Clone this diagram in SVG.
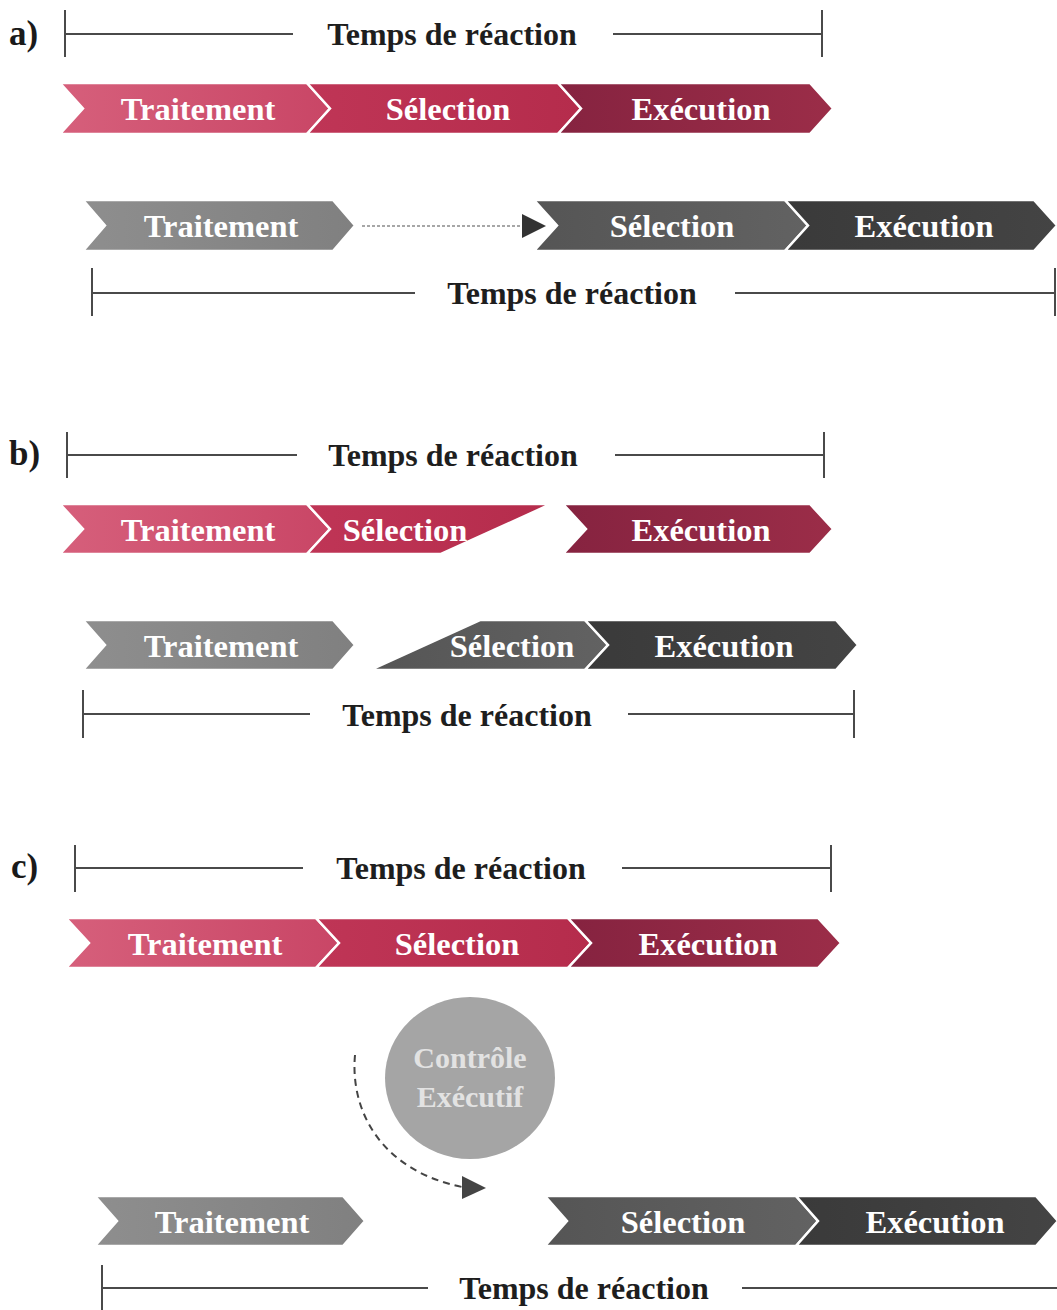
<svg xmlns="http://www.w3.org/2000/svg" width="1057" height="1310" viewBox="0 0 1057 1310">
<style>
.lbl{font-family:"Liberation Serif","Times New Roman",serif;font-weight:bold;font-size:35px;fill:#1a1a1a}
.t{font-family:"Liberation Serif","Times New Roman",serif;font-weight:bold;font-size:32.5px;fill:#ffffff;text-anchor:middle}
.rt{font-family:"Liberation Serif","Times New Roman",serif;font-weight:bold;font-size:32px;fill:#1e1e1e;text-anchor:middle}
.ct{font-family:"Liberation Serif","Times New Roman",serif;font-weight:bold;font-size:30px;fill:#e2e2e2;text-anchor:middle}
.br{stroke:#4a4a4a;stroke-width:2;fill:none}
.seg{stroke:#ffffff;stroke-width:2.5;stroke-linejoin:miter}
.p1{fill:url(#gP1)}.p2{fill:url(#gP2)}.p3{fill:url(#gP3)}
.g1{fill:url(#gG1)}.g2{fill:url(#gG2)}.g3{fill:url(#gG3)}
</style>
<defs>
<linearGradient id="gP1" x1="0" x2="1" y1="0" y2="0"><stop offset="0" stop-color="#d65f7b"/><stop offset="1" stop-color="#c94666"/></linearGradient>
<linearGradient id="gP2" x1="0" x2="1" y1="0" y2="0"><stop offset="0" stop-color="#bf3556"/><stop offset="1" stop-color="#b52c4c"/></linearGradient>
<linearGradient id="gP3" x1="0" x2="1" y1="0" y2="0"><stop offset="0" stop-color="#862340"/><stop offset="1" stop-color="#9b2d48"/></linearGradient>
<linearGradient id="gG1" x1="0" x2="1" y1="0" y2="0"><stop offset="0" stop-color="#8e8e8e"/><stop offset="1" stop-color="#808080"/></linearGradient>
<linearGradient id="gG2" x1="0" x2="1" y1="0" y2="0"><stop offset="0" stop-color="#555555"/><stop offset="1" stop-color="#626262"/></linearGradient>
<linearGradient id="gG3" x1="0" x2="1" y1="0" y2="0"><stop offset="0" stop-color="#3a3a3a"/><stop offset="1" stop-color="#444444"/></linearGradient>
</defs>
<rect width="1057" height="1310" fill="#ffffff"/>

<!-- ===== a) ===== -->
<g id="label-a"><text class="lbl" x="9" y="45">a)</text></g>
<g id="a-rt-top">
<path class="br" d="M65 10V57M65 34H293M613 34H822M822 10V57"/>
<text class="rt" x="452" y="45">Temps de réaction</text>
</g>
<g id="a-p-trait"><path class="p1 seg" d="M60 83H307L330 108.5L307 134H60L83 108.5Z"/><text class="t" x="198" y="120">Traitement</text></g>
<g id="a-p-sel"><path class="p2 seg" d="M307 83H558L581 108.5L558 134H307L330 108.5Z"/><text class="t" x="448" y="120">Sélection</text></g>
<g id="a-p-exe"><path class="p3 seg" d="M558 83H810L833 108.5L810 134H558L581 108.5Z"/><text class="t" x="701" y="120">Exécution</text></g>

<g id="a-g-trait"><path class="g1 seg" d="M83 200H333L355 225.5L333 251H83L105 225.5Z"/><text class="t" x="221" y="237">Traitement</text></g>
<g id="a-g-sel"><path class="g2 seg" d="M534 200H785L808 225.5L785 251H534L557 225.5Z"/><text class="t" x="672" y="237">Sélection</text></g>
<g id="a-g-exe"><path class="g3 seg" d="M785 200H1034L1057 225.5L1034 251H785L808 225.5Z"/><text class="t" x="924" y="237">Exécution</text></g>
<g id="a-rt-bottom">
<path class="br" d="M92 268V316M92 293H415M735 293H1055M1055 268V316"/>
<text class="rt" x="572" y="304">Temps de réaction</text>
</g>

<!-- ===== b) ===== -->
<g id="label-b"><text class="lbl" x="9" y="465">b)</text></g>
<g id="b-rt-top">
<path class="br" d="M67 432V478M67 455H297M615 455H824M824 432V478"/>
<text class="rt" x="453" y="466">Temps de réaction</text>
</g>
<g id="b-p-trait"><path class="p1 seg" d="M60 504H307L330 529L307 554H60L83 529Z"/><text class="t" x="198" y="541">Traitement</text></g>
<g id="b-p-sel"><path class="p2 seg" d="M307 504H551L441 554H307L330 529Z"/><text class="t" x="405" y="541">Sélection</text></g>
<g id="b-p-exe"><path class="p3 seg" d="M563 504H810L833 529L810 554H563L586 529Z"/><text class="t" x="701" y="541">Exécution</text></g>

<g id="b-g-trait"><path class="g1 seg" d="M83 620H333L355 645L333 670H83L105 645Z"/><text class="t" x="221" y="657">Traitement</text></g>
<g id="b-g-sel"><path class="g2 seg" d="M370 670L480 620H585L608 645L585 670Z"/><text class="t" x="512" y="657">Sélection</text></g>
<g id="b-g-exe"><path class="g3 seg" d="M585 620H836L858 645L836 670H585L608 645Z"/><text class="t" x="724" y="657">Exécution</text></g>
<g id="b-rt-bottom">
<path class="br" d="M83 690V738M83 714H310M628 714H854M854 690V738"/>
<text class="rt" x="467" y="726">Temps de réaction</text>
</g>

<!-- ===== c) ===== -->
<g id="label-c"><text class="lbl" x="11" y="878">c)</text></g>
<g id="c-rt-top">
<path class="br" d="M75 845V892M75 868H303M622 868H831M831 845V892"/>
<text class="rt" x="461" y="879">Temps de réaction</text>
</g>
<g id="c-p-trait"><path class="p1 seg" d="M66 918H316L339 943L316 968H66L89 943Z"/><text class="t" x="205" y="955">Traitement</text></g>
<g id="c-p-sel"><path class="p2 seg" d="M316 918H568L591 943L568 968H316L339 943Z"/><text class="t" x="457" y="955">Sélection</text></g>
<g id="c-p-exe"><path class="p3 seg" d="M568 918H818L841 943L818 968H568L591 943Z"/><text class="t" x="708" y="955">Exécution</text></g>

<g id="c-control">
<ellipse cx="470" cy="1078" rx="85" ry="81" fill="#a5a5a5"/>
<text class="ct" x="470" y="1068">Contrôle</text>
<text class="ct" x="470" y="1107">Exécutif</text>
</g>

<g id="c-g-trait"><path class="g1 seg" d="M95 1196H343L365 1221L343 1246H95L117 1221Z"/><text class="t" x="232" y="1233">Traitement</text></g>
<g id="c-g-sel"><path class="g2 seg" d="M545 1196H796L818 1221L796 1246H545L567 1221Z"/><text class="t" x="683" y="1233">Sélection</text></g>
<g id="c-g-exe"><path class="g3 seg" d="M796 1196H1036L1058 1221L1036 1246H796L818 1221Z"/><text class="t" x="935" y="1233">Exécution</text></g>
<g id="c-rt-bottom">
<path class="br" d="M102 1265V1310M102 1288H428M742 1288H1057"/>
<text class="rt" x="584" y="1299">Temps de réaction</text>
</g>

<!-- connectors -->
<g id="connectors">
<path d="M362 226H522" stroke="#8a8a8a" stroke-width="1.5" stroke-dasharray="3 2" fill="none"/>
<path d="M522 214L546 226L522 238Z" fill="#333333"/>
<path d="M355 1055C350 1110 380 1170 462 1187" stroke="#444444" stroke-width="2" stroke-dasharray="7 5" fill="none"/>
<path d="M462 1176L486 1188L462 1199Z" fill="#444444"/>
</g>
</svg>
